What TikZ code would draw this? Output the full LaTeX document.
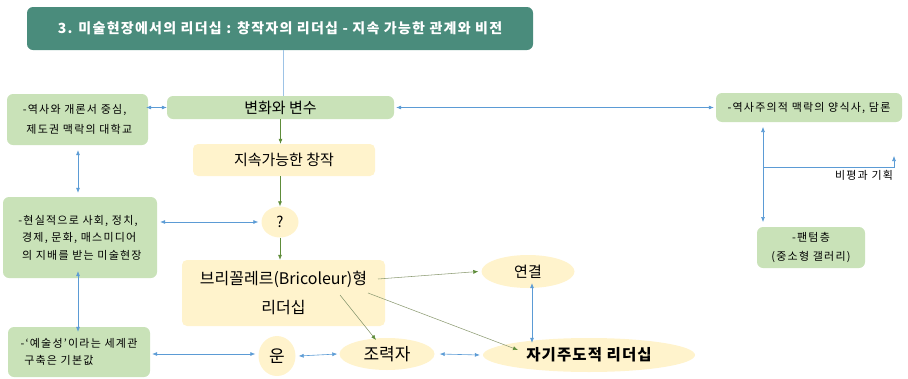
\documentclass[tikz,border=0pt]{standalone}
\usepackage{fontspec}
\setmainfont{Noto Sans CJK KR}
\newfontfamily\krs[LetterSpace=11]{Noto Sans CJK KR}
\newfontfamily\krt[LetterSpace=9]{Noto Sans CJK KR}
\newfontfamily\krb[LetterSpace=7]{Noto Sans CJK KR}
\usetikzlibrary{shapes.geometric,arrows.meta}
\definecolor{titlegreen}{HTML}{4A8C7C}
\definecolor{boxgreen}{HTML}{C9E2B8}
\definecolor{boxyellow}{HTML}{FFF3CC}
\definecolor{ablue}{HTML}{5B9BD5}
\definecolor{lblue}{HTML}{9DC3E6}
\definecolor{agreen}{HTML}{5E8C3A}
\definecolor{olivel}{HTML}{8E9C74}
\tikzset{
  gbox/.style={rectangle, rounded corners=6pt, fill=boxgreen, inner sep=0pt, font=\krs\fontsize{11}{17.5}\selectfont},
  ybox/.style={rectangle, rounded corners=5pt, fill=boxyellow, inner sep=0pt},
  yell/.style={ellipse, fill=boxyellow, inner sep=0pt},
  barrow/.style={draw=ablue, line width=0.6pt, {Latex[length=5pt,width=4pt]}-{Latex[length=5pt,width=4pt]}},
  barrowone/.style={draw=ablue, line width=0.6pt, -{Latex[length=5pt,width=4pt]}},
  garrow/.style={draw=agreen, line width=0.6pt, -{Latex[length=5pt,width=4pt]}},
  oarrow/.style={draw=olivel, line width=0.55pt, -{Latex[length=5pt,width=4pt,color=agreen]}},
}
\begin{document}
\begin{tikzpicture}[x=1pt,y=-1pt]
\useasboundingbox (0,0) rectangle (908,378);
% nodes
\node[rectangle, rounded corners=6pt, fill=titlegreen, minimum width=506pt, minimum height=43pt, text=white, font=\krt\fontsize{14}{16}\selectfont\bfseries] (title) at (280,28.5) {3. 미술현장에서의 리더십 : 창작자의 리더십 - 지속 가능한 관계와 비전};
\node[gbox, minimum width=227pt, minimum height=23pt, font=\fontsize{15}{17}\selectfont] (change) at (280.5,107.5) {변화와 변수};
\node[gbox, minimum width=141pt, minimum height=51pt, align=left, font=\krs\fontsize{11}{20}\selectfont] (box1) at (77.5,119.5) {-역사와 개론서 중심,\\\ 제도권 맥락의 대학교};
\node[ybox, minimum width=182pt, minimum height=32pt, font=\fontsize{15}{17}\selectfont] (sustain) at (284,160) {지속가능한 창작};
\node[yell, minimum width=37pt, minimum height=31pt, font=\fontsize{15}{17}\selectfont] (q) at (280,222) {?};
\node[gbox, minimum width=154pt, minimum height=81pt, align=left] (box2) at (80,237.5) {-현실적으로 사회, 정치,\\\ 경제, 문화, 매스미디어\\\ 의 지배를 받는 미술현장};
\node[ybox, minimum width=203pt, minimum height=66pt, align=center, font=\fontsize{16}{29}\selectfont] (bric) at (283.5,293) {브리꼴레르(Bricoleur)형\\리더십};
\node[gbox, minimum width=142pt, minimum height=50pt, align=left, font=\krs\fontsize{11}{17}\selectfont] (box3) at (79,352) {-‘예술성’이라는 세계관\\\ 구축은 기본값};
\node[yell, minimum width=37pt, minimum height=40pt, font=\fontsize{17}{19}\selectfont] (un) at (277,356) {운};
\node[yell, minimum width=95pt, minimum height=32pt, font=\fontsize{17}{19}\selectfont] (helper) at (387,354) {조력자};
\node[yell, minimum width=212pt, minimum height=34pt, font=\krb\fontsize{15.5}{17}\selectfont\bfseries] (self) at (589,355) {자기주도적 리더십};
\node[yell, minimum width=93pt, minimum height=33pt, font=\fontsize{15}{17}\selectfont] (conn) at (528,271.5) {연결};
\node[gbox, minimum width=186pt, minimum height=29pt] (hist) at (809,107.5) {-역사주의적 맥락의 양식사, 담론};
\node[gbox, minimum width=108pt, minimum height=41pt, align=center, font=\krs\fontsize{11}{19}\selectfont] (phantom) at (811,247.5) {-팬텀층\\(중소형 갤러리)};
\node[font=\krs\fontsize{11}{13}\selectfont] (critic) at (864,175) {비평과 기획};
% coordinates
\coordinate (hb) at (763,127);
\coordinate (hc) at (763,167);
\coordinate (hd) at (763,222);
\coordinate (he) at (894,167);
\coordinate (hf) at (894,156);
% connectors
\draw[lblue, line width=0.6pt] (title.south -| change.north) ++(2.5,0) -- ++(0,46);
\draw[barrow] (box1.east) ++(-2,-12) coordinate (b1e) -- (change.west |- b1e);
\draw[barrow] (change.east) ++(2,0) -- ([xshift=-2pt]hist.west);
\draw[garrow] (change.south) -- (sustain.north -| change.south);
\draw[garrow] (sustain.south -| q.north) -- (q.north);
\draw[garrow] (q.south) -- (bric.north -| q.south);
\draw[barrow] ([yshift=-5pt]box1.south -| 78,0) -- ([yshift=4pt]box2.north -| 78,0);
\draw[barrow] ([xshift=3pt]box2.east |- q.west) -- ([xshift=-3pt]q.west);
\draw[barrow] ([yshift=7pt]box2.south -| 78,0) -- ([yshift=-5pt]box3.north -| 78,0);
\draw[barrow] ([xshift=2pt]box3.east |- 0,354) -- ([xshift=-3pt]un.west |- 0,354);
\draw[barrow] ([xshift=3pt]un.east) -- ([xshift=-2pt]helper.west);
\draw[barrow] ([xshift=5pt]helper.east) -- ([xshift=-3pt]self.west);
\draw[barrow] ([yshift=5pt]conn.south -| 532,0) -- ([yshift=-5pt]self.north -| 532,0);
\draw[oarrow] (378,279) -- ([xshift=-3pt]conn.west);
\draw[oarrow] (340,295) -- (376,340);
\draw[oarrow] (368,293) -- (518,350);
\draw[barrow] (hb) -- (hd);
\draw[barrowone] (hc) -- (he) -- (hf);
\end{tikzpicture}
\end{document}
